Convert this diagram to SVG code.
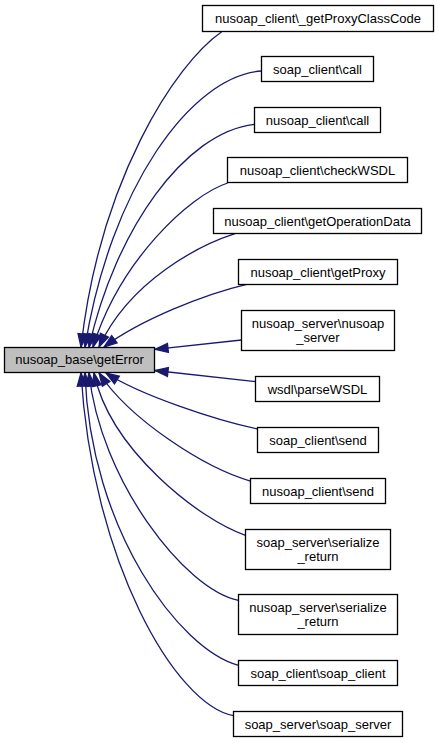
<svg xmlns="http://www.w3.org/2000/svg" width="439" height="743" viewBox="0 0 439 743">
<style>
.node rect{fill:#ffffff;stroke:#000000;stroke-width:1.3}
.node.main rect{fill:#bfbfbf}
.node text{font-family:"Liberation Sans",Arial,Helvetica,sans-serif;font-size:13px;fill:#000000;text-anchor:middle}
.edges path{fill:none;stroke:#191970;stroke-width:1.3;marker-end:url(#arr)}
</style>
<defs>
<marker id="arr" markerUnits="userSpaceOnUse" markerWidth="14" markerHeight="10" refX="13" refY="4.5" orient="auto" overflow="visible">
<path d="M0,0 L13,4.5 L0,9 z" fill="#191970" stroke="#191970" stroke-width="1.3"/>
</marker>
</defs>
<rect width="439" height="743" fill="#ffffff"/>
<g class="edges" id="edges">
<path d="M221.7,31.7 C175,64 100,180 81,347"/>
<path d="M261.7,71 C190,76 110,190 85,347"/>
<path d="M254.3,124.3 C185,132 115,230 89,347"/>
<path d="M227.7,183 C190,195 120,260 93,347"/>
<path d="M235,233.7 C200,245 130,280 99,347"/>
<path d="M246.7,284.3 C205,294 140,320 104,347"/>
<path d="M241.5,340 L155,349.3"/>
<path d="M255.5,381.7 L155,370.5"/>
<path d="M257.7,429 C215,420 140,395 106,373"/>
<path d="M250.5,481 C205,468 130,420 99,373"/>
<path d="M245.5,535.3 C200,520 110,450 94,373"/>
<path d="M238.5,600.3 C185,590 100,480 89,373"/>
<path d="M238.5,665.3 C180,650 90,530 85,373"/>
<path d="M233.5,715.7 C175,705 92,560 81,373"/>
</g>
<g class="node main" id="node-getError">
<rect x="4.5" y="347.5" width="150" height="25"/>
<text x="79.5" y="364">nusoap_base\getError</text>
</g>
<g class="node" id="node-getProxyClassCode">
<rect x="202.5" y="5.5" width="231" height="26"/>
<text x="318" y="22.5">nusoap_client\_getProxyClassCode</text>
</g>
<g class="node" id="node-soap_client-call">
<rect x="261.5" y="56.5" width="112" height="25"/>
<text x="317.5" y="73.5">soap_client\call</text>
</g>
<g class="node" id="node-nusoap_client-call">
<rect x="254.5" y="107.5" width="126" height="25"/>
<text x="317.5" y="124.5">nusoap_client\call</text>
</g>
<g class="node" id="node-checkWSDL">
<rect x="227.5" y="157.5" width="180" height="25"/>
<text x="317.5" y="174.5">nusoap_client\checkWSDL</text>
</g>
<g class="node" id="node-getOperationData">
<rect x="213.5" y="208.5" width="208" height="25"/>
<text x="317.5" y="225.5">nusoap_client\getOperationData</text>
</g>
<g class="node" id="node-getProxy">
<rect x="238.5" y="259.5" width="159" height="25"/>
<text x="318" y="276.5">nusoap_client\getProxy</text>
</g>
<g class="node" id="node-nusoap_server">
<rect x="241.5" y="310.5" width="153" height="40"/>
<text x="318" y="327.5">nusoap_server\nusoap</text>
<text x="318" y="341.5">_server</text>
</g>
<g class="node" id="node-parseWSDL">
<rect x="255.5" y="376.5" width="124" height="25"/>
<text x="317.5" y="393.5">wsdl\parseWSDL</text>
</g>
<g class="node" id="node-soap_client-send">
<rect x="257.5" y="427.5" width="121" height="25"/>
<text x="318" y="444.5">soap_client\send</text>
</g>
<g class="node" id="node-nusoap_client-send">
<rect x="250.5" y="478.5" width="135" height="25"/>
<text x="318" y="495.5">nusoap_client\send</text>
</g>
<g class="node" id="node-soap_server-serialize_return">
<rect x="245.5" y="529.5" width="145" height="40"/>
<text x="318" y="546.5">soap_server\serialize</text>
<text x="318" y="560.5">_return</text>
</g>
<g class="node" id="node-nusoap_server-serialize_return">
<rect x="238.5" y="594.5" width="159" height="40"/>
<text x="318" y="611.5">nusoap_server\serialize</text>
<text x="318" y="625.5">_return</text>
</g>
<g class="node" id="node-soap_client-soap_client">
<rect x="238.5" y="660.5" width="159" height="25"/>
<text x="318" y="677.5">soap_client\soap_client</text>
</g>
<g class="node" id="node-soap_server-soap_server">
<rect x="233.5" y="711.5" width="169" height="25"/>
<text x="318" y="728.5">soap_server\soap_server</text>
</g>
</svg>
